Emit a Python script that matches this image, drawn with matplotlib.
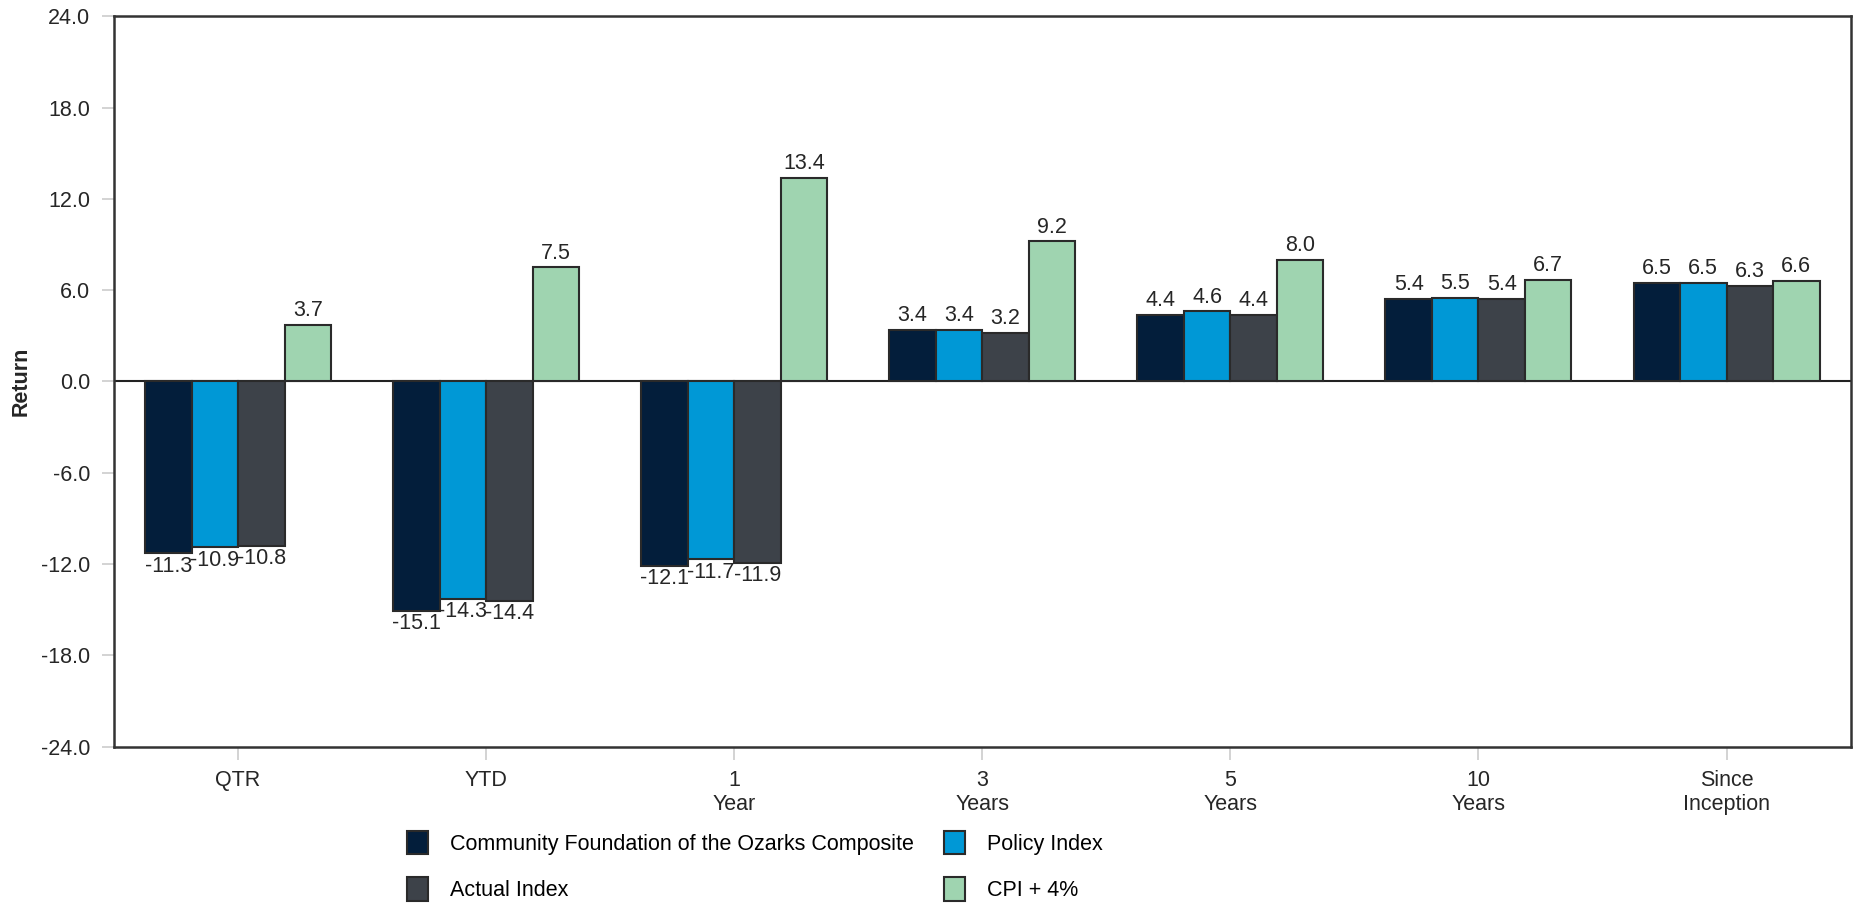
import numpy as np
import matplotlib.pyplot as plt
from matplotlib.patches import Patch

plt.rcParams['font.family'] = ['Liberation Sans', 'DejaVu Sans']

categories = ['QTR', 'YTD', '1\nYear', '3\nYears', '5\nYears', '10\nYears', 'Since\nInception']
composite = [-11.3, -15.1, -12.1, 3.4, 4.4, 5.4, 6.5]
policy = [-10.9, -14.3, -11.7, 3.4, 4.6, 5.5, 6.5]
actual = [-10.8, -14.4, -11.9, 3.2, 4.4, 5.4, 6.3]
cpi = [3.7, 7.5, 13.4, 9.2, 8.0, 6.7, 6.6]

series_names = ['Community Foundation of the Ozarks Composite', 'Policy Index',
                'Actual Index', 'CPI + 4%']
colors = ['#031e3b', '#0098d6', '#3d4249', '#9fd4b0']
edge = '#2a2a2a'
txt = '#262626'
fs = 15.5

fig = plt.figure(figsize=(18.58, 9.05), dpi=100)
ax = fig.add_axes([0.0614, 0.175, 0.9346, 0.807])

x = np.arange(len(categories))
w = 0.1875
series = [composite, policy, actual, cpi]
for i, vals in enumerate(series):
    pos = x + (i - 1.5) * w
    bars = ax.bar(pos, vals, w, color=colors[i], edgecolor=edge, linewidth=1.5, zorder=3)
    for b, v in zip(bars, vals):
        if v >= 0:
            ax.text(b.get_x() + w / 2, v + 0.25, f'{v:.1f}', ha='center', va='bottom',
                    fontsize=fs, color=txt, zorder=4)
        else:
            ax.text(b.get_x() + w / 2, v - 0.15, f'{v:.1f}', ha='center', va='top',
                    fontsize=fs, color=txt, zorder=4)

ax.axhline(0, color='#222222', linewidth=1.5, zorder=2)
ax.set_xlim(-0.5, len(categories) - 0.5)
ax.set_ylim(-24, 24)
ax.set_yticks(np.arange(-24, 25, 6))
ax.set_yticklabels([f'{t:.1f}' for t in np.arange(-24, 25, 6)])
ax.set_xticks(x)
ax.set_xticklabels(categories)
ax.tick_params(axis='both', colors='#cccccc', labelcolor=txt, labelsize=fs, length=9, width=1.2)
ax.tick_params(axis='x', pad=8)
ax.tick_params(axis='y', pad=8)
for s in ax.spines.values():
    s.set_color('#333333')
    s.set_linewidth(1.8)
ax.set_ylabel('Return', fontsize=fs, fontweight='bold', color=txt, labelpad=7)

# legend fills column-wise, so reorder to get row-wise layout
order = [0, 2, 1, 3]
handles = [Patch(facecolor=colors[k], edgecolor=edge, linewidth=1.5) for k in order]
labels = [series_names[k] for k in order]
fig.legend(handles, labels, loc='upper left', bbox_to_anchor=(0.213, 0.094), ncol=2,
           frameon=False, fontsize=fs, handlelength=1.0, handleheight=1.3, borderpad=0,
           columnspacing=1.4, labelspacing=1.05, handletextpad=1.0)

fig.savefig('out.png', dpi=100)
